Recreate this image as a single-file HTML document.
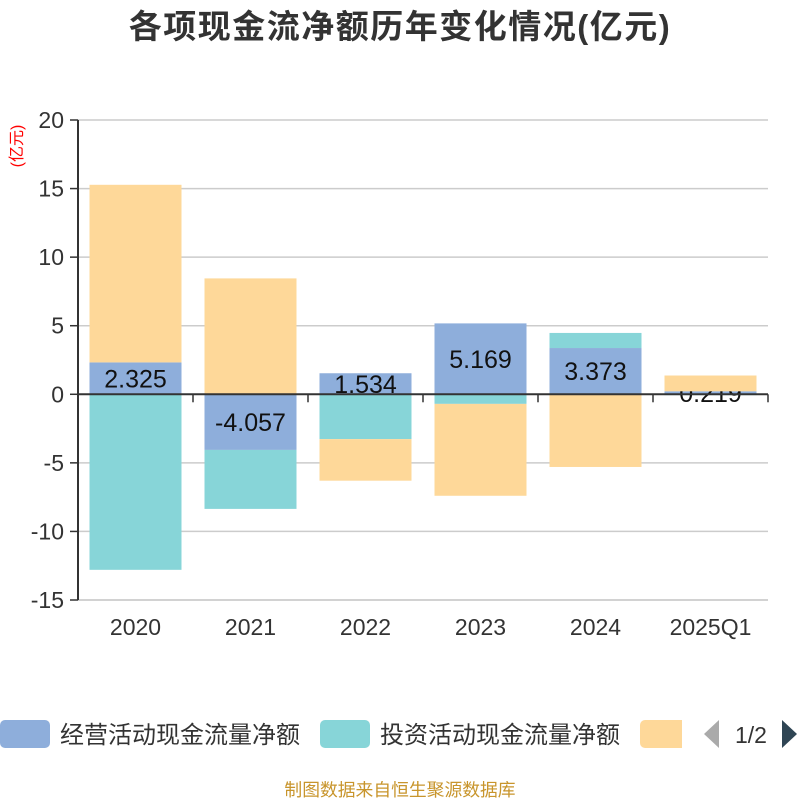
<!DOCTYPE html>
<html><head><meta charset="utf-8"><style>
body{margin:0;background:#fff;}
svg{display:block;font-family:"Liberation Sans","Noto Sans CJK SC",sans-serif;}
</style></head><body>
<svg id="c" width="800" height="800">
<text x="400" y="38" text-anchor="middle" font-size="33" font-weight="bold" fill="#333" letter-spacing="1.5">各项现金流净额历年变化情况(亿元)</text>
<text transform="translate(22,146) rotate(-90)" text-anchor="middle" font-size="16" fill="#f00">(亿元)</text>
<g id="grid"></g><g id="bars"></g><g id="labels"></g><g id="fin"></g><g id="axes"></g>
<g>
<rect x="0" y="720" width="50" height="28" rx="5" fill="#8eaedb"/>
<text x="60" y="743" font-size="24" fill="#333">经营活动现金流量净额</text>
<rect x="320" y="720" width="50" height="28" rx="5" fill="#87d5d8"/>
<text x="380" y="743" font-size="24" fill="#333">投资活动现金流量净额</text>
<path d="M640 725 a5 5 0 0 1 5 -5 H682 V748 H645 a5 5 0 0 1 -5 -5Z" fill="#fed899"/>
<polygon points="719,720 719,748 704,734" fill="#aaa"/>
<text x="751" y="743" text-anchor="middle" font-size="23" fill="#333">1/2</text>
<polygon points="782,720 782,748 797,734" fill="#2f4554"/>
</g>
<text x="400" y="796" text-anchor="middle" font-size="17.8" fill="#c8952c">制图数据来自恒生聚源数据库</text>
</svg>
<script>
const categories=["2020","2021","2022","2023","2024","2025Q1"];
const operating=[2.325,-4.057,1.534,5.169,3.373,0.219];
const investing=[-12.8,-4.3,-3.27,-0.7,1.1,-0.06];
const financing=[12.95,8.45,-3.03,-6.7,-5.3,1.15];
const yTicks=[20,15,10,5,0,-5,-10,-15];
const NS="http://www.w3.org/2000/svg";
const x0=78,x1=768,yTop=120,yBot=600,yMax=20,yMin=-15;
const band=(x1-x0)/categories.length,bw=92;
function y(v){return yTop+(yMax-v)/(yMax-yMin)*(yBot-yTop);}
function xc(i){return x0+band*(i+0.5);}
function mk(p,tag,a){const e=document.createElementNS(NS,tag);for(const k in a)e.setAttribute(k,a[k]);p.appendChild(e);return e;}
const grid=document.getElementById('grid'),bars=document.getElementById('bars'),labels=document.getElementById('labels'),fin=document.getElementById('fin'),axes=document.getElementById('axes');
yTicks.forEach(t=>{
 if(t!==0){const l=mk(grid,'line',{x1:x0,x2:x1,y1:y(t),y2:y(t),stroke:'#ccc','stroke-width':1.5});
 
 }
 const tk=mk(axes,'line',{x1:x0-8,x2:x0,y1:y(t),y2:y(t),stroke:'#333','stroke-width':1.5});
 
 
 const tx=mk(axes,'text',{x:x0-14,y:y(t)+8,'text-anchor':'end','font-size':23,fill:'#333'});tx.textContent=t;
 
 
});
const series=[[operating,'#8eaedb','operating'],[investing,'#87d5d8','investing'],[financing,'#fed899','financing']];
categories.forEach((c,i)=>{
 let pos=0,neg=0;
 series.forEach(([arr,col,nm])=>{
  const v=arr[i];let a,b;
  if(v>=0){a=pos;b=pos+v;pos=b;}else{a=neg;b=neg+v;neg=b;}
  const r=mk(nm==='financing'?fin:bars,'rect',{x:xc(i)-bw/2,y:Math.min(y(a),y(b)),width:bw,height:Math.abs(y(a)-y(b)),fill:col});
  
  
 });
 const v=operating[i];
 const t=mk(labels,'text',{x:xc(i),y:y(v/2)+9,'text-anchor':'middle','font-size':25,fill:'#111'});t.textContent=v.toFixed(3);
 
 
 const xl=mk(axes,'text',{x:xc(i),y:y(yMin)+35,'text-anchor':'middle','font-size':23,fill:'#333'});xl.textContent=c;
 
 
});
for(let i=0;i<=categories.length;i++){
 const tk=mk(axes,'line',{x1:x0+band*i,x2:x0+band*i,y1:y(0),y2:y(0)+8,stroke:'#333','stroke-width':1.5});
 
 
}
const za=mk(axes,'line',{x1:x0,x2:x1,y1:y(0),y2:y(0),stroke:'#333','stroke-width':2});


const bl=mk(axes,'line',{x1:x0,x2:x1,y1:yBot,y2:yBot,stroke:'#ccc','stroke-width':1.5});


const ya=mk(axes,'line',{x1:x0,x2:x0,y1:yTop,y2:yBot,stroke:'#333','stroke-width':2});


</script>
</body></html>
